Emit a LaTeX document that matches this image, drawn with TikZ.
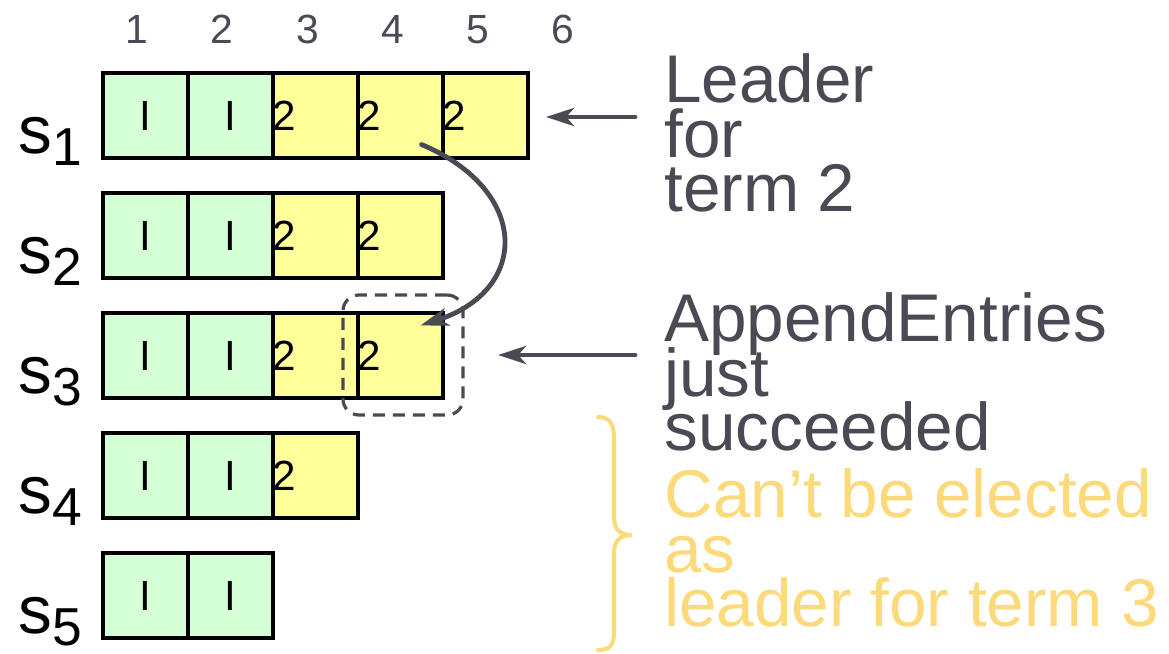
\documentclass[tikz,border=0pt]{standalone}
\usepackage{fontspec}
\setmainfont{Liberation Sans}
\usepackage{xcolor}
\usetikzlibrary{arrows.meta,positioning,calc}
\definecolor{inkgray}{HTML}{4A4A55}
\definecolor{termone}{HTML}{D5FFD5}
\definecolor{termtwo}{HTML}{FFFF99}
\definecolor{warnyel}{HTML}{FCD97A}
\newcommand{\notefont}{\fontsize{48}{38.7}\selectfont\lineskiplimit=-50pt\relax}
\tikzset{
  cell/.style={draw=black, line width=0.1cm, inner sep=0pt, minimum width=2.125cm,
               minimum height=2.125cm, font=\fontsize{30}{30}\selectfont},
  oldcell/.style={cell, fill=termone},
  newcell/.style={cell, fill=termtwo, text width=2.125cm, align=left},
  colnum/.style={anchor=base, inner sep=0pt, text=inkgray, font=\fontsize{29}{30}\selectfont},
  rowlab/.style={anchor=base west, inner sep=0pt, font=\fontsize{48}{48}\selectfont},
  note/.style={anchor=north west, inner sep=0pt, align=left, text=inkgray, font=\notefont},
  flow/.style={-{Stealth[length=0.7cm, width=0.45cm, inset=0.2cm]}, line width=0.12cm,
               draw=inkgray, line cap=round},
  hilite/.style={draw=inkgray, dashed, dash pattern=on 0.3cm off 0.2cm, line width=0.08cm,
                 rounded corners=0.4cm, minimum width=3cm, minimum height=3cm},
}
\newcommand{\srow}[1]{s\raisebox{-0.3cm}{\fontsize{38}{38}\selectfont #1}}
\begin{document}
\begin{tikzpicture}[x=0.025cm, y=-0.025cm]
  \useasboundingbox (0,0) rectangle (1169,653);
  % index numbers
  \foreach \c in {1,...,6}
    \node[colnum] (n\c) at ({137+85.2*(\c-1)},43) {\c};
  % logs of the five servers
  \foreach \r/\n in {1/5,2/4,3/4,4/3,5/2} {
    \node[rowlab] (s\r) at (18,{153+120*(\r-1)}) {\srow{\r}};
    \foreach \c in {1,...,\n} {
      \ifnum\c<3
        \node[oldcell] (c\r\c) at ({145.5+85*(\c-1)},{115.5+120*(\r-1)}) {I};
      \else
        \node[newcell] (c\r\c) at ({145.5+85*(\c-1)},{115.5+120*(\r-1)}) {2};
      \fi
    }
  }
  % notes
  \node[note] (lead) at (664,53.5) {Leader\\for\\term 2};
  \node[note] (succ) at (664,292.5) {AppendEntries\\just\\succeeded};
  \node[note, text=warnyel] (elect) at (664,468.5) {Can’t be elected\\as\\leader for term 3};
  % arrows
  \coordinate (a1) at (635,117);
  \coordinate (b1) at (546,117);
  \coordinate (a2) at (635,355);
  \coordinate (b2) at (498,355);
  \draw[flow] (a1) -- (b1);
  \draw[flow] (a2) -- (b2);
  \node[hilite] (hl) at (403,355) {};
  \draw[flow] ([shift={(21,29)}]c14.center) .. controls (530,190) and (530,290) .. ([shift={(20,-30)}]c34.center);
  % brace
  \draw[warnyel, line width=0.1cm, line cap=round]
    (598,417) .. controls (610,417) and (614,424) .. (614,438) -- (614,516)
    .. controls (614,530) and (620,535) .. (632,535)
    .. controls (620,535) and (614,540) .. (614,554) -- (614,632)
    .. controls (614,645) and (610,650) .. (598,650);
\end{tikzpicture}
\end{document}
